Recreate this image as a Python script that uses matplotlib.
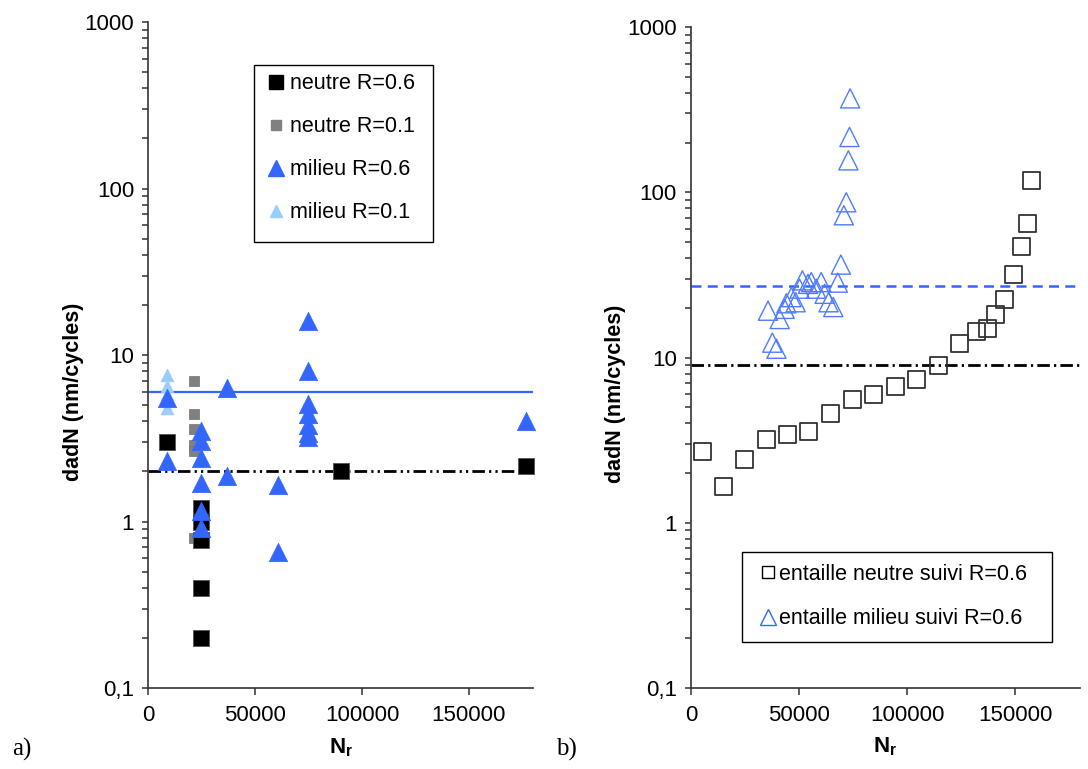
import numpy as np
import matplotlib
matplotlib.use('Agg')
import matplotlib.pyplot as plt
from matplotlib.ticker import FixedLocator, FixedFormatter, LogLocator, NullFormatter
from matplotlib.lines import Line2D
from matplotlib.patches import Rectangle

plt.rcParams['font.family'] = ['Liberation Sans', 'DejaVu Sans']
plt.rcParams['mathtext.fontset'] = 'custom'
plt.rcParams['mathtext.rm'] = 'Liberation Sans'
plt.rcParams['mathtext.bf'] = 'Liberation Sans:bold'

# --- a) data
neutre06_N = [8700, 25000, 25000, 25000, 25000, 25000, 90000, 176900]
neutre06_y = [3.0, 1.2, 1.0, 0.77, 0.4, 0.2, 2.0, 2.15]
neutre01_N = [21500, 21500, 21500, 21500, 21500, 21500]
neutre01_y = [7.0, 4.4, 3.6, 2.9, 2.65, 0.8]
milieu06_N = [8700, 8700, 25000, 25000, 25000, 25000, 25000, 25000, 36800, 36800,
              60600, 60600, 74900, 74900, 74900, 74900, 74900, 74900, 74900, 176900]
milieu06_y = [5.5, 2.3, 3.5, 3.05, 2.4, 1.7, 1.15, 0.92, 6.3, 1.87,
              1.65, 0.66, 16.0, 8.0, 5.1, 4.4, 3.8, 3.4, 3.2, 4.0]
milieu01_N = [8700, 8700, 8700, 8700]
milieu01_y = [7.6, 6.5, 5.8, 4.8]
seuil_milieu_a = 6.0
seuil_neutre_a = 2.0

# --- b) data
suivi_neutre_N = [5200, 14900, 24900, 34900, 44900, 54600, 64600, 74600, 84600, 94500,
                  104500, 114400, 124200, 132300, 137300, 141100, 145100, 149100,
                  153000, 155700, 157600]
suivi_neutre_y = [2.7, 1.65, 2.4, 3.2, 3.4, 3.55, 4.6, 5.6, 6.0, 6.7,
                  7.4, 8.9, 12.1, 14.4, 14.9, 18.2, 22.5, 31.6, 47, 65, 117]
suivi_milieu_N = [35700, 37700, 39600, 41100, 43400, 44200, 46500, 48500, 50300, 51600,
                  54200, 55700, 58000, 60300, 61900, 63700, 65900, 68000, 69400, 70800,
                  71900, 72900, 73400, 73700]
suivi_milieu_y = [19.2, 12.3, 11.3, 17.1, 19.7, 21.3, 23.2, 21.6, 26.1, 29.3,
                  27.9, 28.6, 26.1, 28.6, 24.3, 21.6, 20.2, 28.4, 36.5, 72.6,
                  87, 156, 216, 370]
seuil_milieu_b = 27.0
seuil_neutre_b = 9.0

ytick_vals = [0.1, 1, 10, 100, 1000]
ytick_labels = ['0,1', '1', '10', '100', '1000']
xtick_vals = [0, 50000, 100000, 150000]

blue = '#3366ff'
lightblue = '#99ccff'
axcol = '#333333'

fig = plt.figure(figsize=(10.88, 7.69), dpi=100)
ax1 = fig.add_axes([0.136, 0.1053, 0.354, 0.866])
ax2 = fig.add_axes([0.635, 0.1053, 0.3575, 0.8596])


def style_axis(ax):
    ax.set_yscale('log')
    ax.set_ylim(0.1, 1000)
    ax.set_xlim(0, 180000)
    for s in ['top', 'right']:
        ax.spines[s].set_visible(False)
    for s in ['left', 'bottom']:
        ax.spines[s].set_color(axcol)
        ax.spines[s].set_linewidth(1.2)
    ax.yaxis.set_major_locator(FixedLocator(ytick_vals))
    ax.yaxis.set_major_formatter(FixedFormatter(ytick_labels))
    ax.yaxis.set_minor_locator(LogLocator(base=10, subs=np.arange(2, 10)))
    ax.yaxis.set_minor_formatter(NullFormatter())
    ax.xaxis.set_major_locator(FixedLocator(xtick_vals))
    ax.tick_params(axis='y', which='both', direction='out', length=4, width=1.1,
                   color=axcol, labelsize=16, pad=6)
    ax.tick_params(axis='x', which='both', direction='out', length=5, width=1.1,
                   color=axcol, labelsize=16, pad=7)
    ax.set_ylabel('dadN (nm/cycles)', fontsize=15.5, fontweight='bold')
    ax.yaxis.set_label_coords(-0.166, 0.445)
    ax.set_xlabel(r'$\mathbf{N_r}$', fontsize=16)
    ax.xaxis.set_label_coords(0.5, -0.072)


style_axis(ax1)
style_axis(ax2)

# panel a
ax1.axhline(seuil_milieu_a, color=blue, lw=1.6, zorder=1)
ax1.axhline(seuil_neutre_a, color='black', lw=2, dashes=(4.5, 1.5, 0.8, 1.5, 0.8, 1.5), zorder=1)
ax1.scatter(neutre01_N, neutre01_y, marker='s', s=55, color='#808080', edgecolors='#707070',
            linewidths=0.5, zorder=2, clip_on=False)
ax1.scatter(neutre06_N, neutre06_y, marker='s', s=130, color='black', edgecolors='#555555',
            linewidths=0.6, zorder=3, clip_on=False)
ax1.scatter(milieu01_N, milieu01_y, marker='^', s=85, color=lightblue, edgecolors=lightblue,
            linewidths=0.5, zorder=4, clip_on=False)
ax1.scatter(milieu06_N, milieu06_y, marker='^', s=175, color=blue, edgecolors=blue,
            linewidths=0.5, zorder=5, clip_on=False)

# legend box drawn by hand (Excel style, extra room at the bottom)
ax1.add_patch(Rectangle((0.2753, 0.6697), 0.740 - 0.2753, 0.9354 - 0.6697,
                        transform=ax1.transAxes, facecolor='white', edgecolor='black',
                        lw=1.0, zorder=6))
h1 = [Line2D([], [], ls='none', marker='s', ms=10, color='black'),
      Line2D([], [], ls='none', marker='s', ms=7, color='#808080'),
      Line2D([], [], ls='none', marker='^', ms=11, color=blue),
      Line2D([], [], ls='none', marker='^', ms=8, color=lightblue)]
leg1 = ax1.legend(h1, ['neutre R=0.6', 'neutre R=0.1', 'milieu R=0.6', 'milieu R=0.1'],
                  loc='upper left', bbox_to_anchor=(0.313, 0.923), fontsize=15.5,
                  frameon=False, handlelength=0.7, handletextpad=0.3,
                  labelspacing=1.02, borderpad=0, borderaxespad=0)
leg1.set_zorder(7)

# panel b
ax2.axhline(seuil_milieu_b, color=blue, lw=1.8, dashes=(4, 2.5), zorder=1)
ax2.axhline(seuil_neutre_b, color='black', lw=2, dashes=(4.5, 1.5, 0.8, 1.5), zorder=1)
ax2.scatter(suivi_neutre_N, suivi_neutre_y, marker='s', s=150, facecolors='none',
            edgecolors='#333333', linewidths=1.3, zorder=3)
ax2.scatter(suivi_milieu_N, suivi_milieu_y, marker='^', s=190, facecolors='none',
            edgecolors='#4f7bff', linewidths=1.0, zorder=4)

ax2.add_patch(Rectangle((0.131, 0.0696), 0.928 - 0.131, 0.2057 - 0.0696,
                        transform=ax2.transAxes, facecolor='white', edgecolor='black',
                        lw=1.0, zorder=6))
h2 = [Line2D([], [], ls='none', marker='s', ms=9, mfc='none', mec='black', mew=1.0),
      Line2D([], [], ls='none', marker='^', ms=11, mfc='none', mec=blue, mew=1.0)]
leg2 = ax2.legend(h2, ['entaille neutre suivi R=0.6', 'entaille milieu suivi R=0.6'],
                  loc='upper left', bbox_to_anchor=(0.179, 0.1876), fontsize=15.5,
                  frameon=False, handlelength=0.7, handletextpad=0.15,
                  labelspacing=1.09, borderpad=0, borderaxespad=0)
leg2.set_zorder(7)

fig.text(0.02, 0.025, 'a)', fontsize=18, family=['Liberation Serif', 'DejaVu Serif'],
         ha='center', va='center')
fig.text(0.521, 0.025, 'b)', fontsize=18, family=['Liberation Serif', 'DejaVu Serif'],
         ha='center', va='center')

fig.savefig('out.png', dpi=100)
